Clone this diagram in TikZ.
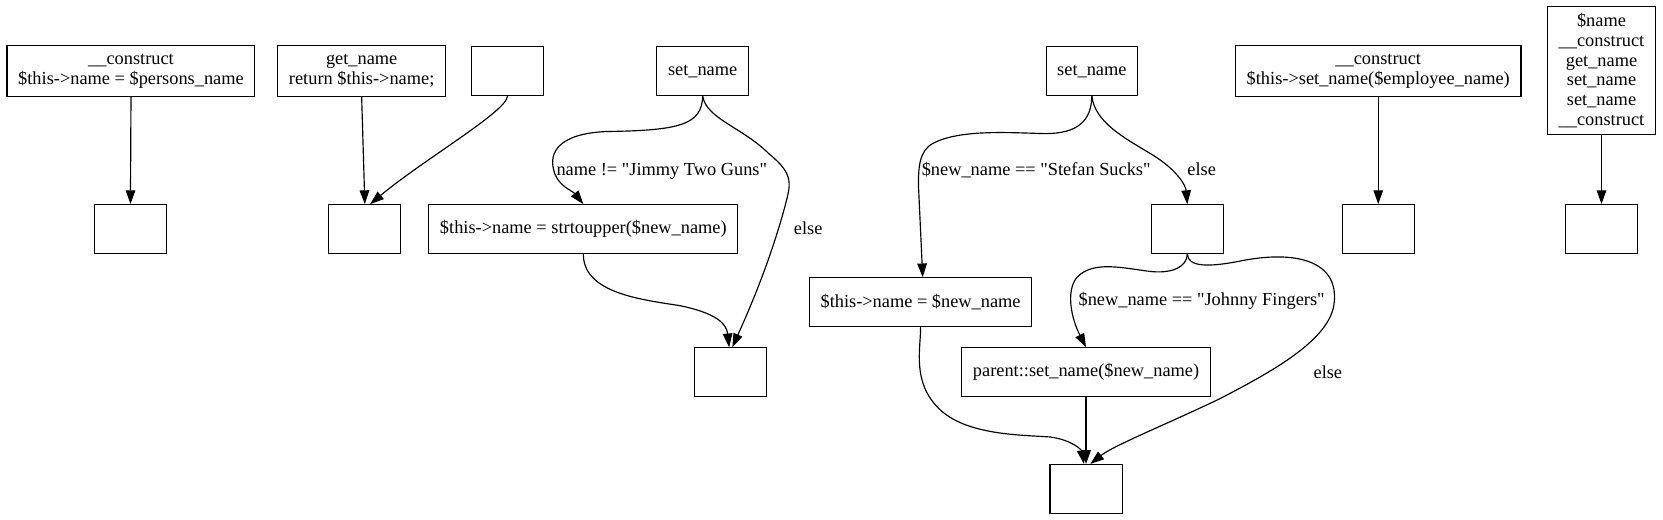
\documentclass[tikz,border=0pt]{standalone}
\usepackage{fontspec}
\setmainfont{Liberation Serif}[Ligatures=TeXOff]
\usetikzlibrary{arrows.meta, positioning}

\begin{document}
\begin{tikzpicture}[x=1pt,y=-1pt,font=\fontsize{17.3}{18.7}\selectfont]
\tikzset{
  box/.style={draw, line width=1.1pt, rectangle, align=center, inner xsep=10.5pt, inner ysep=5pt, minimum width=68pt, minimum height=46pt},
  twobox/.style={box, minimum height=48pt},
  flow/.style={line width=1.1pt, -{Triangle[length=13pt,width=9pt]}},
  lbl/.style={inner sep=0pt}
}
\useasboundingbox (0,0) rectangle (1568,490);

\node[twobox] (a1) at (123.5,67) {\_\_construct\\\$this->name = \$persons\_name};
\node[box] (a2) at (123,216) {};
\node[twobox] (b1) at (341,67) {get\_name\\return \$this->name;};
\node[box] (b2) at (478.5,67) {};
\node[box] (b3) at (344,216) {};

\node[box] (c1) at (662.5,67) {set\_name};
\node[box] (c2) at (550,216) {\$this->name = strtoupper(\$new\_name)};
\node[box] (c3) at (688.5,351) {};

\node[box] (d1) at (1029.5,67) {set\_name};
\node[box] (d2) at (868,285) {\$this->name = \$new\_name};
\node[box] (d3) at (1119.5,216) {};
\node[box] (d4) at (1024,351) {parent::set\_name(\$new\_name)};
\node[box] (d5) at (1024,461) {};

\node[twobox] (e1) at (1299.5,67) {\_\_construct\\\$this->set\_name(\$employee\_name)};
\node[box] (e2) at (1299.5,216) {};
\node[box, inner ysep=6.5pt] (f1) at (1510,66.5) {\$name\\\_\_construct\\get\_name\\set\_name\\set\_name\\\_\_construct};
\node[box] (f2) at (1510,216) {};

\draw[flow] (a1.south) -- (a2.north);
\draw[flow] (b1.south) -- (b3.north);
\draw[flow] (b2.south) .. controls (478,105) and (400,150) .. ([xshift=5pt]b3.north);

\draw[flow] (c1.south) .. controls (662,118) and (640,123) .. (572,124) .. controls (525,126) and (518,145) .. (522,160) .. controls (525,175) and (540,180) .. (c2.north);
\draw[flow] (c1.south) .. controls (666,112) and (700,120) .. (725,145) .. controls (750,165) and (745,175) .. (740,195) .. controls (725,250) and (705,295) .. ([xshift=2pt]c3.north);
\draw[flow] (c2.south) .. controls (550,275) and (600,282) .. (640,288) .. controls (675,295) and (685,305) .. ([xshift=-1pt]c3.north);
\node[lbl] (jimmy) at (624,162) {name != "Jimmy Two Guns"};
\node[lbl] (else1) at (762,215) {else};

\draw[flow] (d1.south) .. controls (1029,115) and (1015,126) .. (985,126) .. controls (950,125) and (905,122) .. (880,135) .. controls (866,142) and (866,160) .. (866,175) -- ([xshift=2pt]d2.north);
\draw[flow] (d1.south) .. controls (1032,115) and (1060,130) .. (1085,145) .. controls (1110,160) and (1118,175) .. (d3.north);
\draw[flow] (d3.south) .. controls (1119,252) and (1105,258) .. (1085,256) .. controls (1060,253) and (1030,245) .. (1015,262) .. controls (1005,275) and (1010,300) .. (d4.north);
\draw[flow] (d3.south) .. controls (1120,252) and (1140,252) .. (1170,246) .. controls (1220,236) and (1262,245) .. (1258,285) .. controls (1255,320) and (1200,350) .. (1150,376) .. controls (1100,400) and (1050,420) .. ([xshift=4pt]d5.north);
\draw[flow] (d2.south) .. controls (868,330) and (860,360) .. (885,385) .. controls (910,410) and (960,410) .. (990,412) .. controls (1012,415) and (1020,425) .. ([xshift=-2pt]d5.north);
\draw[flow] (d4.south) -- (d5.north);
\node[lbl] (stefan) at (977,160) {\$new\_name == "Stefan Sucks"};
\node[lbl] (else2) at (1133,160) {else};
\node[lbl] (johnny) at (1133,284) {\$new\_name == "Johnny Fingers"};
\node[lbl] (else3) at (1252,351) {else};

\draw[flow] (e1.south) -- (e2.north);
\draw[flow] (f1.south) -- (f2.north);
\end{tikzpicture}
\end{document}
